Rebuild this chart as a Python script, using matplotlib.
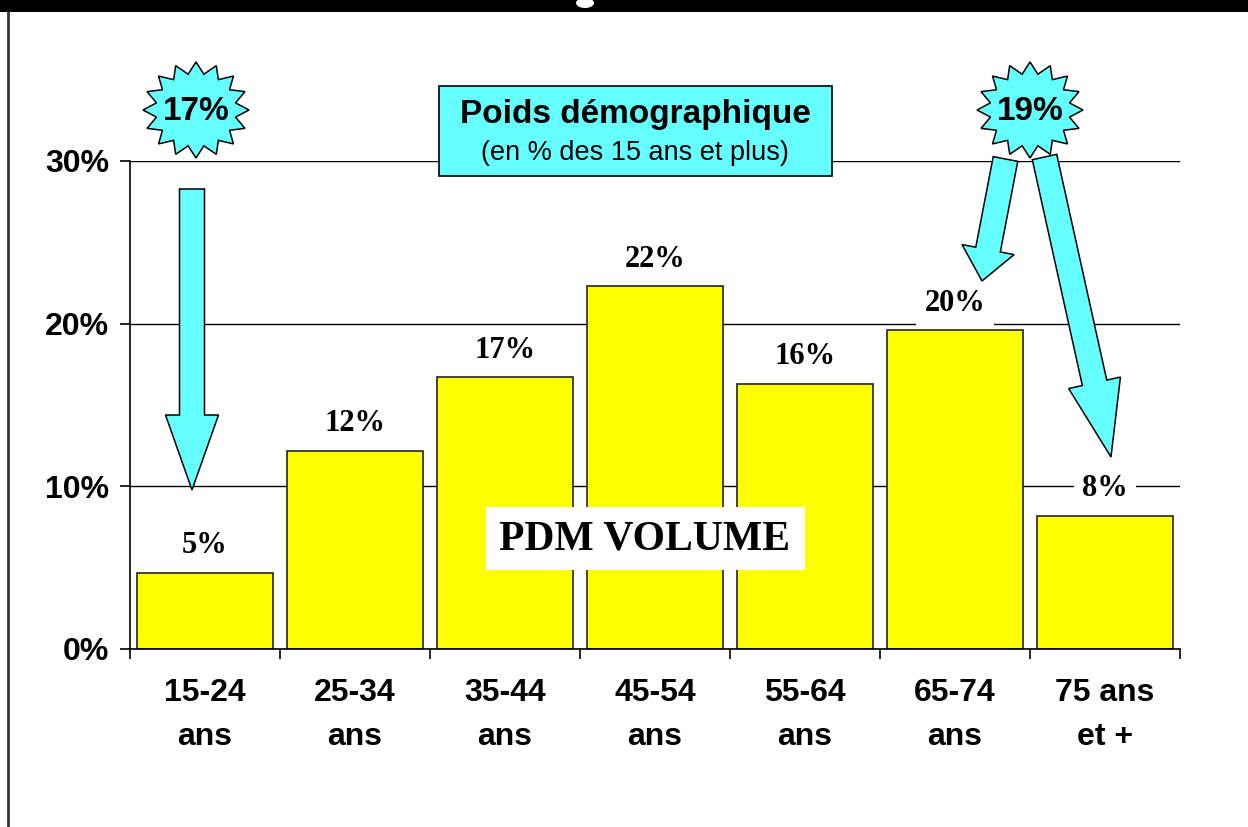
import numpy as np
import matplotlib
matplotlib.use("Agg")
import matplotlib.pyplot as plt
from matplotlib.patches import Rectangle, Polygon, FancyArrow, Ellipse

plt.rcParams['font.family'] = ['Liberation Sans', 'DejaVu Sans']

# données
categories = ["15-24\nans", "25-34\nans", "35-44\nans", "45-54\nans",
              "55-64\nans", "65-74\nans", "75 ans\net +"]
pdm_volume = [4.7, 12.2, 16.7, 22.3, 16.3, 19.6, 8.2]
yticks = [0, 10, 20, 30]
ytick_labels = ["0%", "10%", "20%", "30%"]
poids_labels = ["17%", "19%"]

fig = plt.figure(figsize=(12.48, 8.27), dpi=100)
W, H = 1248, 827

# bandeau noir en haut + bordure gauche
fig.add_artist(Rectangle((0, 1 - 12 / H), 1, 12 / H, transform=fig.transFigure,
                         facecolor='black', edgecolor='none', zorder=0))
fig.add_artist(plt.Line2D([8 / W, 8 / W], [0, 1 - 12 / H], transform=fig.transFigure,
                          color='#333333', lw=2))

# graphique principal
ax = fig.add_axes([130 / W, (H - 649) / H, 1050 / W, 488 / H])
x = np.arange(len(categories))
ax.bar(x, pdm_volume, width=0.91, color='#FFFF00', edgecolor='#222222',
       linewidth=1.2, zorder=2)
ax.set_xlim(-0.5, len(categories) - 0.5)
ax.set_ylim(0, 30)
ax.set_yticks(yticks)
ax.set_yticklabels(ytick_labels, fontsize=23, fontweight='bold')
ax.yaxis.grid(True, color='black', lw=1)
ax.set_axisbelow(True)
for s in ['top', 'right']:
    ax.spines[s].set_visible(False)
for s in ['left', 'bottom']:
    ax.spines[s].set_linewidth(1.2)
ax.tick_params(axis='y', length=7, width=1.2, pad=8)

ax.set_xticks(np.arange(-0.5, len(categories), 1))
ax.set_xticklabels([])
ax.set_xticks(x, minor=True)
ax.set_xticklabels(categories, minor=True, fontsize=23, fontweight='bold',
                   linespacing=1.6)
ax.tick_params(axis='x', which='major', length=7, width=1.2)
ax.tick_params(axis='x', which='minor', length=0, pad=21)

for xi, v in zip(x, pdm_volume):
    ax.annotate(f"{v:.0f}%", (xi, v), xytext=(0, 19.5), textcoords='offset points',
                ha='center', va='center', fontsize=22, fontweight='bold',
                family='Liberation Serif', zorder=3,
                bbox=dict(facecolor='white', edgecolor='none', pad=6))

# calque des annotations (coordonnées en pixels)
ov = fig.add_axes([0, 0, 1, 1], zorder=5)
ov.set_xlim(0, W)
ov.set_ylim(H, 0)
ov.axis('off')
ov.patch.set_visible(False)

# bout du titre coupé par le bandeau
ov.add_patch(Ellipse((585, 3), 18, 10, facecolor='white', edgecolor='none'))

cyan = '#66FFFF'

ov.add_patch(Rectangle((486, 507), 319, 63, facecolor='white', edgecolor='none'))
ov.text(645, 539, "PDM VOLUME", ha='center', va='center', fontsize=30,
        fontweight='bold', family='Liberation Serif')

ov.add_patch(Rectangle((439, 86), 393, 90, facecolor=cyan, edgecolor='black', lw=1.2))
ov.text(635, 114, "Poids démographique", ha='center', va='center',
        fontsize=24, fontweight='bold')
ov.text(635, 153, "(en % des 15 ans et plus)", ha='center', va='center', fontsize=19.5)

arrows = [((192, 189), (0, 301), 75), ((1005.5, 159), (-23.5, 122), 32),
          ((1044.5, 157), (66.5, 300), 76)]
for (x0, y0), (dx, dy), hl in arrows:
    ov.add_patch(FancyArrow(x0, y0, dx, dy, width=25, head_width=53, head_length=hl,
                            length_includes_head=True, facecolor=cyan,
                            edgecolor='black', lw=1.1))


def star(cx, cy, rx, ry, n=16, inner=0.76):
    ang = np.linspace(0, 2 * np.pi, 2 * n, endpoint=False) - np.pi / 2
    r = np.where(np.arange(2 * n) % 2 == 0, 1.0, inner)
    return np.column_stack([cx + rx * r * np.cos(ang), cy + ry * r * np.sin(ang)])


for (cx, cy), lab in zip([(196, 110), (1030, 110)], poids_labels):
    ov.add_patch(Polygon(star(cx, cy, 53, 48), closed=True, facecolor=cyan,
                         edgecolor='black', lw=1.1))
    ov.text(cx, cy + 1, lab, ha='center', va='center', fontsize=24, fontweight='bold')

plt.savefig('out.png', dpi=100)
